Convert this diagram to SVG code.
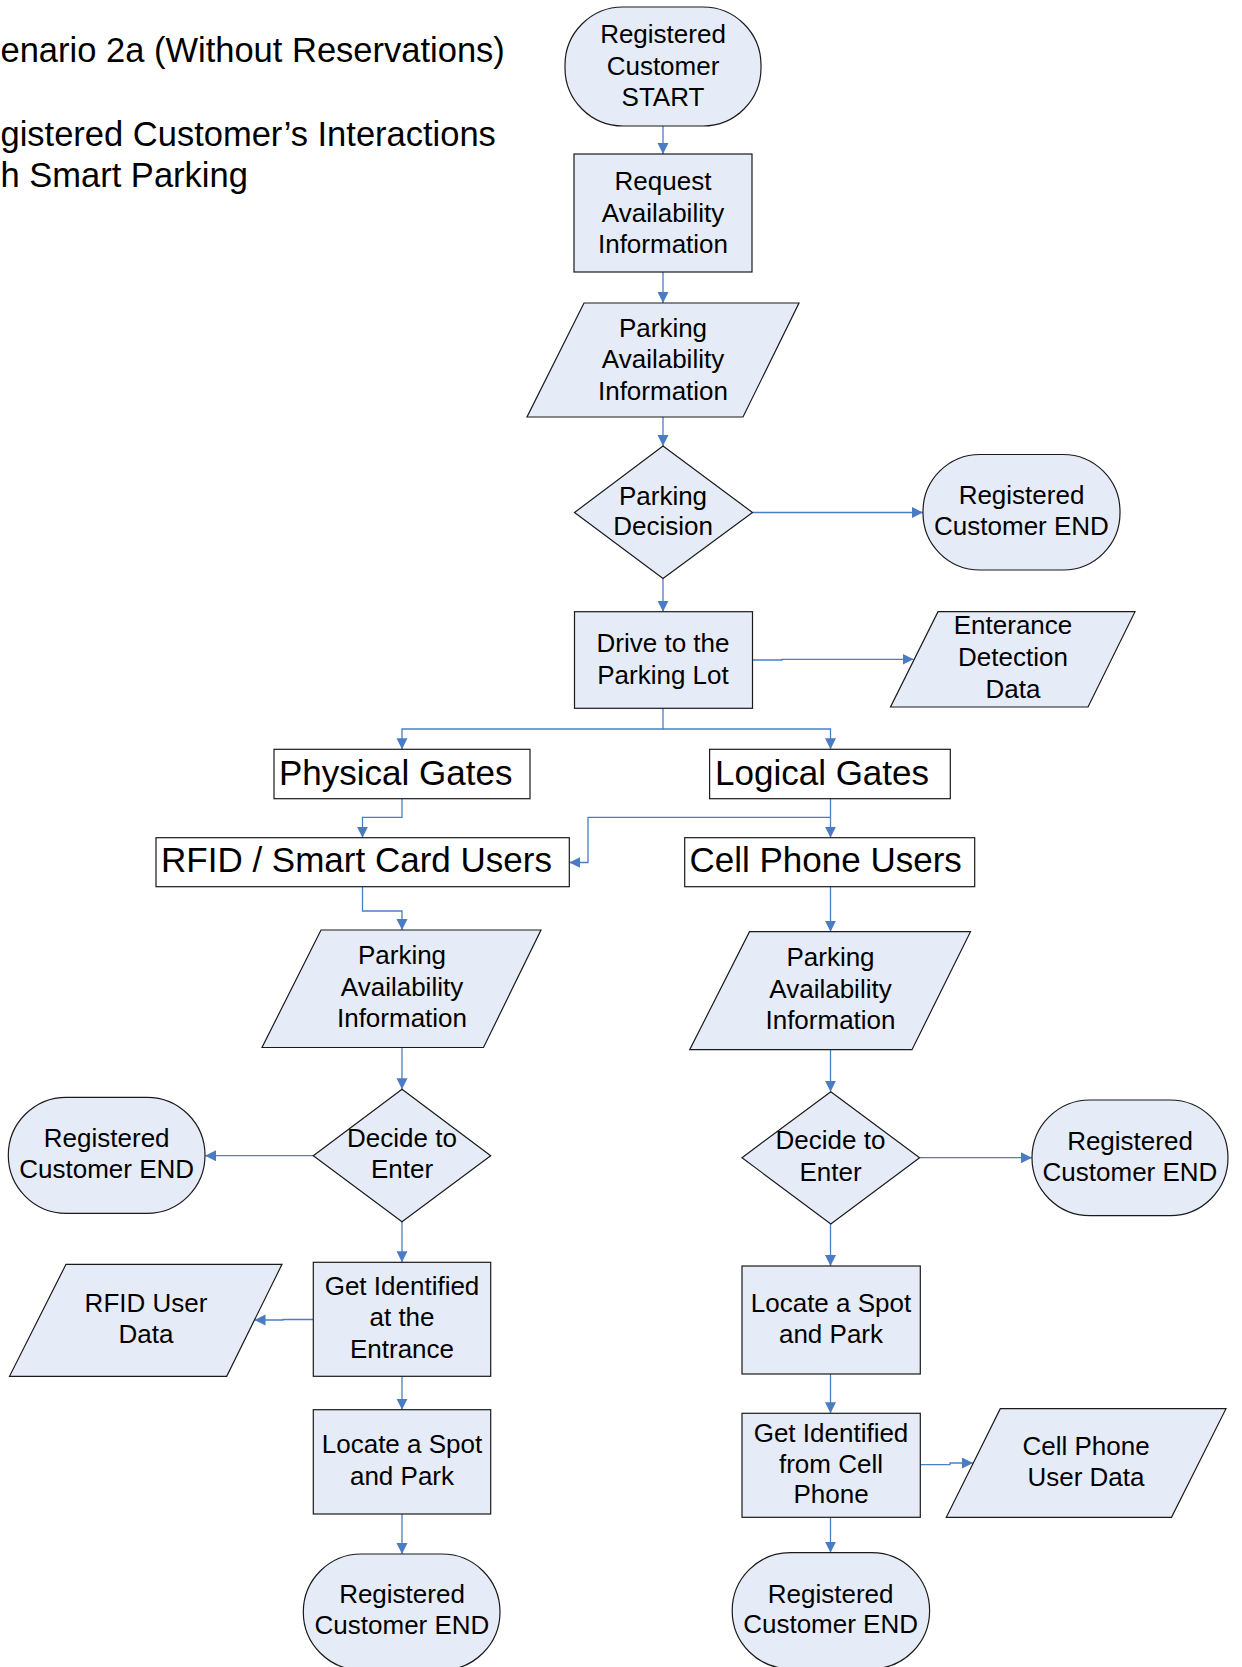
<svg xmlns="http://www.w3.org/2000/svg" width="1242" height="1667" viewBox="0 0 1242 1667">
  <defs>
    <marker id="arrow" markerUnits="userSpaceOnUse" markerWidth="12" markerHeight="12" refX="11" refY="5.5" orient="auto">
      <path d="M0,0 L11,5.5 L0,11 z" fill="#4A7CC4"/>
    </marker>
  </defs>
  <style>
    text { font-family: "Liberation Sans", Arial, sans-serif; fill: #000; }
    .title { font-size: 34.5px; }
    .lbl { font-size: 26px; text-anchor: middle; }
    .big { font-size: 35px; }
    .shape { fill: #E6ECF7; stroke: #1a1a1a; stroke-width: 1.2; }
    .plain { fill: #fff; stroke: #1a1a1a; stroke-width: 1.2; }
    .conn path { fill: none; stroke: #4A7EC7; stroke-width: 1.3; }
  </style>
  <rect width="1242" height="1667" fill="#fff"/>

  <!-- heading -->
  <g id="heading">
    <text class="title" x="0.5" y="62">enario 2a (Without Reservations)</text>
    <text class="title" x="0.5" y="146">gistered Customer’s Interactions</text>
    <text class="title" x="0.5" y="187">h Smart Parking</text>
  </g>

  <!-- connectors -->
  <g id="connectors" class="conn">
    <path d="M663,126 V154" marker-end="url(#arrow)"/>
    <path d="M663,272 V303" marker-end="url(#arrow)"/>
    <path d="M663,417 V446" marker-end="url(#arrow)"/>
    <path d="M752.5,512.5 H923" marker-end="url(#arrow)"/>
    <path d="M663,578.5 V611.7" marker-end="url(#arrow)"/>
    <path d="M752.5,660 H782 V659.3 H913.5" marker-end="url(#arrow)"/>
    <path d="M663,708.3 V729 H402 V749.3" marker-end="url(#arrow)"/>
    <path d="M663,729 H830.5 V749.3" marker-end="url(#arrow)"/>
    <path d="M402,798.7 V817.3 H362.5 V837.7" marker-end="url(#arrow)"/>
    <path d="M830.5,798.7 V837.7" marker-end="url(#arrow)"/>
    <path d="M830.5,817.3 H588 V862.5 H569.3" marker-end="url(#arrow)"/>
    <path d="M362.5,886.7 V911 H402 V930" marker-end="url(#arrow)"/>
    <path d="M830.5,886.7 V931.7" marker-end="url(#arrow)"/>
    <path d="M402,1047.5 V1089.3" marker-end="url(#arrow)"/>
    <path d="M313.3,1155.7 H205" marker-end="url(#arrow)"/>
    <path d="M402,1221.7 V1262.3" marker-end="url(#arrow)"/>
    <path d="M313.3,1319.5 H283 V1320 H254.5" marker-end="url(#arrow)"/>
    <path d="M402,1376.3 V1409.7" marker-end="url(#arrow)"/>
    <path d="M402,1514 V1554" marker-end="url(#arrow)"/>
    <path d="M830.5,1049.7 V1091.7" marker-end="url(#arrow)"/>
    <path d="M919.6,1157.7 H1032" marker-end="url(#arrow)"/>
    <path d="M830.5,1224 V1266" marker-end="url(#arrow)"/>
    <path d="M830.5,1374 V1413.3" marker-end="url(#arrow)"/>
    <path d="M920.3,1464.7 H950 V1463 H973" marker-end="url(#arrow)"/>
    <path d="M830.5,1517.3 V1552.7" marker-end="url(#arrow)"/>
  </g>

  <!-- main flow -->
  <g id="start">
    <rect class="shape" x="565" y="7" width="196" height="119" rx="58" ry="58"/>
    <text class="lbl" x="663" y="43.3">Registered</text>
    <text class="lbl" x="663" y="74.5">Customer</text>
    <text class="lbl" x="663" y="106">START</text>
  </g>
  <g id="request-info">
    <rect class="shape" x="574" y="154" width="178" height="118"/>
    <text class="lbl" x="663" y="190">Request</text>
    <text class="lbl" x="663" y="222">Availability</text>
    <text class="lbl" x="663" y="253">Information</text>
  </g>
  <g id="availability-main">
    <polygon class="shape" points="584,303 799,303 743,417 527,417"/>
    <text class="lbl" x="663" y="337">Parking</text>
    <text class="lbl" x="663" y="368">Availability</text>
    <text class="lbl" x="663" y="399.5">Information</text>
  </g>
  <g id="parking-decision">
    <polygon class="shape" points="663,446 752.5,512.5 663,578.5 574.5,512.5"/>
    <text class="lbl" x="663" y="505">Parking</text>
    <text class="lbl" x="663" y="535">Decision</text>
  </g>
  <g id="end-top">
    <rect class="shape" x="923" y="454.5" width="197" height="115.5" rx="57" ry="57"/>
    <text class="lbl" x="1021.5" y="504">Registered</text>
    <text class="lbl" x="1021.5" y="535">Customer END</text>
  </g>
  <g id="drive">
    <rect class="shape" x="574.5" y="611.7" width="178" height="96.6"/>
    <text class="lbl" x="663" y="652">Drive to the</text>
    <text class="lbl" x="663" y="683.5">Parking Lot</text>
  </g>
  <g id="entrance-data">
    <polygon class="shape" points="938,611.7 1135,611.7 1088,707 890.5,707"/>
    <text class="lbl" x="1013" y="634">Enterance</text>
    <text class="lbl" x="1013" y="665.5">Detection</text>
    <text class="lbl" x="1013" y="697.5">Data</text>
  </g>

  <!-- gate groups -->
  <g id="physical-gates">
    <rect class="plain" x="274" y="749.3" width="256" height="49.4"/>
    <text class="big" x="279" y="785">Physical Gates</text>
  </g>
  <g id="logical-gates">
    <rect class="plain" x="709.6" y="749.3" width="240.7" height="49.4"/>
    <text class="big" x="715" y="785">Logical Gates</text>
  </g>
  <g id="rfid-users">
    <rect class="plain" x="156" y="837.7" width="413.3" height="49"/>
    <text class="big" x="161" y="872">RFID / Smart Card Users</text>
  </g>
  <g id="cell-users">
    <rect class="plain" x="684.7" y="837.7" width="290" height="49"/>
    <text class="big" x="689.5" y="872">Cell Phone Users</text>
  </g>

  <!-- RFID branch -->
  <g id="availability-rfid">
    <polygon class="shape" points="321,930 541,930 483.5,1047.5 262,1047.5"/>
    <text class="lbl" x="402" y="964">Parking</text>
    <text class="lbl" x="402" y="995.5">Availability</text>
    <text class="lbl" x="402" y="1027">Information</text>
  </g>
  <g id="decide-rfid">
    <polygon class="shape" points="402,1089.3 490.7,1155.7 402,1221.7 313.3,1155.7"/>
    <text class="lbl" x="402" y="1147.3">Decide to</text>
    <text class="lbl" x="402" y="1178.3">Enter</text>
  </g>
  <g id="end-rfid-decline">
    <rect class="shape" x="8.3" y="1097.3" width="196.7" height="116" rx="58" ry="58"/>
    <text class="lbl" x="106.7" y="1147.3">Registered</text>
    <text class="lbl" x="106.7" y="1178.3">Customer END</text>
  </g>
  <g id="identify-rfid">
    <rect class="shape" x="313.3" y="1262.3" width="177.4" height="114"/>
    <text class="lbl" x="402" y="1295">Get Identified</text>
    <text class="lbl" x="402" y="1326.3">at the</text>
    <text class="lbl" x="402" y="1357.5">Entrance</text>
  </g>
  <g id="rfid-data">
    <polygon class="shape" points="66,1264.3 282,1264.3 226.7,1376.3 9.5,1376.3"/>
    <text class="lbl" x="146" y="1312">RFID User</text>
    <text class="lbl" x="146" y="1343">Data</text>
  </g>
  <g id="park-rfid">
    <rect class="shape" x="313.3" y="1409.7" width="177.4" height="104.3"/>
    <text class="lbl" x="402" y="1453.3">Locate a Spot</text>
    <text class="lbl" x="402" y="1485">and Park</text>
  </g>
  <g id="end-rfid">
    <rect class="shape" x="303.3" y="1554" width="196.7" height="116" rx="58" ry="58"/>
    <text class="lbl" x="402" y="1603.3">Registered</text>
    <text class="lbl" x="402" y="1634.3">Customer END</text>
  </g>

  <!-- cell phone branch -->
  <g id="availability-cell">
    <polygon class="shape" points="749.5,931.7 970.5,931.7 912,1049.7 689.7,1049.7"/>
    <text class="lbl" x="830.5" y="966">Parking</text>
    <text class="lbl" x="830.5" y="997.5">Availability</text>
    <text class="lbl" x="830.5" y="1029">Information</text>
  </g>
  <g id="decide-cell">
    <polygon class="shape" points="830.8,1091.7 919.6,1157.7 830.8,1224 742,1157.7"/>
    <text class="lbl" x="830.5" y="1149.3">Decide to</text>
    <text class="lbl" x="830.5" y="1181">Enter</text>
  </g>
  <g id="end-cell-decline">
    <rect class="shape" x="1032" y="1100" width="196" height="115.7" rx="58" ry="58"/>
    <text class="lbl" x="1130" y="1150">Registered</text>
    <text class="lbl" x="1130" y="1181">Customer END</text>
  </g>
  <g id="park-cell">
    <rect class="shape" x="742" y="1266" width="178.3" height="108"/>
    <text class="lbl" x="831" y="1312">Locate a Spot</text>
    <text class="lbl" x="831" y="1343.3">and Park</text>
  </g>
  <g id="identify-cell">
    <rect class="shape" x="742" y="1413.3" width="178.3" height="104"/>
    <text class="lbl" x="831" y="1441.7">Get Identified</text>
    <text class="lbl" x="831" y="1472.7">from Cell</text>
    <text class="lbl" x="831" y="1503.3">Phone</text>
  </g>
  <g id="cell-data">
    <polygon class="shape" points="1000.3,1408.7 1226,1408.7 1171.5,1517.3 946.3,1517.3"/>
    <text class="lbl" x="1086" y="1455">Cell Phone</text>
    <text class="lbl" x="1086" y="1486">User Data</text>
  </g>
  <g id="end-cell">
    <rect class="shape" x="732.2" y="1552.7" width="197.4" height="116" rx="58" ry="58"/>
    <text class="lbl" x="830.6" y="1602.7">Registered</text>
    <text class="lbl" x="830.6" y="1633.3">Customer END</text>
  </g>
</svg>
